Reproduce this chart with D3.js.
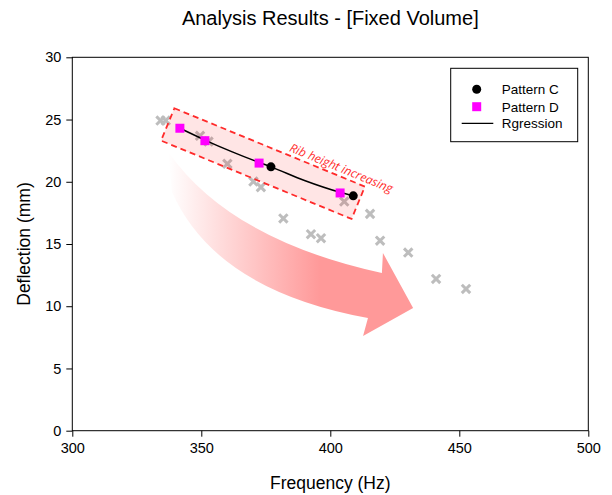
<!DOCTYPE html>
<html>
<head>
<meta charset="utf-8">
<script src="https://cdn.jsdelivr.net/npm/d3@7"></script>
<style>
  body { margin: 0; background: #fff; }
  svg { display: block; }
</style>
</head>
<body>
<div id="chart"></div>
<script>
// DATA
var patternCFreq = [377.0, 408.9];
var patternCDefl = [21.2, 18.87];
var patternDFreq = [341.7, 351.4, 372.4, 403.8];
var patternDDefl = [24.3, 23.3, 21.5, 19.1];
var otherFreq = [334.2, 336.2, 349.5, 352.8, 360.1, 370.2, 373.1, 381.8, 392.5, 396.4, 405.4, 415.4, 419.3, 430.2, 441.0, 452.6];
var otherDefl = [24.92, 24.92, 23.69, 23.23, 21.44, 20.02, 19.57, 17.05, 15.79, 15.47, 18.41, 17.42, 15.27, 14.31, 12.19, 11.39];
var regFreq = [341.7, 351.4, 362.0, 372.4, 377.0, 390.0, 403.8, 408.9];
var regDefl = [24.3, 23.35, 22.4, 21.55, 21.2, 20.1, 19.15, 18.87];
var xTicks = [300, 350, 400, 450, 500];
var yTicks = [0, 5, 10, 15, 20, 25, 30];
var legendLabels = ['Pattern C', 'Pattern D', 'Rgression'];

// SETTINGS
var settings = {
   width: 612,
   height: 495,
   left: 72.3,
   right: 588.3,
   top: 57.3,
   bottom: 430.7,
   font: '"Liberation Sans", Arial, sans-serif'
};

// SCALES
var xScale = d3.scaleLinear().domain([300, 500]).range([settings.left, settings.right]);
var yScale = d3.scaleLinear().domain([0, 30]).range([settings.bottom, settings.top]);

var svg = d3.select('#chart').append('svg')
   .attr('width', settings.width)
   .attr('height', settings.height)
   .style('font-family', settings.font);

// GRADIENT FOR ARROW
var defs = svg.append('defs');
var grad = defs.append('linearGradient')
   .attr('id', 'arrowGrad')
   .attr('gradientUnits', 'userSpaceOnUse')
   .attr('x1', 168).attr('y1', 0).attr('x2', 320).attr('y2', 0);
grad.append('stop').attr('offset', '0%').attr('stop-color', '#ffffff');
grad.append('stop').attr('offset', '100%').attr('stop-color', '#ff9999');

// CURVED ARROW (data space anchors)
var P = function (f, d) { return [xScale(f), yScale(d)]; };
var a0 = P(337.2, 22.4), c1 = P(361.1, 15.33), a1 = P(420.0, 12.67),
    h1 = P(420.4, 14.28), tip = P(432.1, 9.86), h2 = P(412.7, 7.61),
    a2 = P(414.6, 9.06), c2 = P(355.3, 11.31), a3 = P(338.6, 19.19);
var arrowPath = 'M' + a0 + 'Q' + c1 + ' ' + a1 + 'L' + h1 + 'L' + tip + 'L' + h2 +
   'L' + a2 + 'Q' + c2 + ' ' + a3 + 'Z';
svg.append('path')
   .attr('d', arrowPath)
   .attr('fill', 'url(#arrowGrad)');

// GRAY CROSSES
var crosses = svg.append('g');
otherFreq.forEach(function (f, i) {
   var cx = xScale(f), cy = yScale(otherDefl[i]), s = 4.2;
   crosses.append('path')
      .attr('d', 'M' + (cx - s) + ',' + (cy - s) + 'L' + (cx + s) + ',' + (cy + s) +
                 'M' + (cx - s) + ',' + (cy + s) + 'L' + (cx + s) + ',' + (cy - s))
      .attr('stroke', '#bdbdbd')
      .attr('stroke-width', 3)
      .attr('fill', 'none');
});

// DASHED ANNOTATION BOX
var boxCenter = P(373.9, 21.46);
var box = svg.append('g')
   .attr('transform', 'translate(' + boxCenter + ') rotate(22.35)');
box.append('rect')
   .attr('x', -103).attr('y', -17.5)
   .attr('width', 206).attr('height', 35)
   .attr('fill', 'rgba(255,0,0,0.1)')
   .attr('stroke', '#ff2a2a')
   .attr('stroke-width', 1.8)
   .attr('stroke-dasharray', '6,4');
box.append('text')
   .attr('x', 19).attr('y', -21.5)
   .attr('fill', '#ff2a2a')
   .style('font-family', '"Open Sans", sans-serif')
   .style('font-style', 'italic')
   .style('font-size', '12px')
   .text('Rib height increasing');

// REGRESSION LINE
var line = d3.line()
   .x(function (d, i) { return xScale(regFreq[i]); })
   .y(function (d) { return yScale(d); })
   .curve(d3.curveMonotoneX);
svg.append('path')
   .attr('d', line(regDefl))
   .attr('fill', 'none')
   .attr('stroke', '#000')
   .attr('stroke-width', 1.5);

// PATTERN D SQUARES
svg.selectAll('rect.pd')
   .data(patternDDefl)
   .enter().append('rect')
      .attr('class', 'pd')
      .attr('x', function (d, i) { return xScale(patternDFreq[i]) - 4.5; })
      .attr('y', function (d) { return yScale(d) - 4.5; })
      .attr('width', 9).attr('height', 9)
      .attr('fill', '#ff00ff');

// PATTERN C CIRCLES
svg.selectAll('circle.pc')
   .data(patternCDefl)
   .enter().append('circle')
      .attr('class', 'pc')
      .attr('cx', function (d, i) { return xScale(patternCFreq[i]); })
      .attr('cy', function (d) { return yScale(d); })
      .attr('r', 4.5)
      .attr('fill', '#000');

// FRAME
svg.append('rect')
   .attr('x', settings.left).attr('y', settings.top)
   .attr('width', settings.right - settings.left)
   .attr('height', settings.bottom - settings.top)
   .attr('fill', 'none')
   .attr('stroke', '#000')
   .attr('stroke-width', 1);

// AXES
var xAxis = svg.append('g')
   .attr('transform', 'translate(0,' + settings.bottom + ')')
   .call(d3.axisBottom(xScale).tickValues(xTicks).tickSize(6).tickPadding(6).tickSizeOuter(0));
var yAxis = svg.append('g')
   .attr('transform', 'translate(' + settings.left + ',0)')
   .call(d3.axisLeft(yScale).tickValues(yTicks).tickSize(6).tickPadding(5).tickSizeOuter(0));
[xAxis, yAxis].forEach(function (ax) {
   ax.select('.domain').remove();
   ax.selectAll('text')
      .style('font-family', settings.font)
      .style('font-size', '14.5px')
      .attr('fill', '#000');
});

// TITLES
svg.append('text')
   .attr('x', (settings.left + settings.right) / 2)
   .attr('y', 25)
   .attr('text-anchor', 'middle')
   .style('font-size', '20px')
   .text('Analysis Results - [Fixed Volume]');
svg.append('text')
   .attr('x', (settings.left + settings.right) / 2)
   .attr('y', 489)
   .attr('text-anchor', 'middle')
   .style('font-size', '17.5px')
   .text('Frequency (Hz)');
svg.append('text')
   .attr('transform', 'translate(30,' + ((settings.top + settings.bottom) / 2) + ') rotate(-90)')
   .attr('text-anchor', 'middle')
   .style('font-size', '17.5px')
   .text('Deflection (mm)');

// LEGEND
var legend = svg.append('g');
legend.append('rect')
   .attr('x', 450.7).attr('y', 68.3)
   .attr('width', 127).attr('height', 73.4)
   .attr('fill', '#fff')
   .attr('stroke', '#000')
   .attr('stroke-width', 1);
var ly = [89.3, 106.7, 123.3];
legend.append('circle').attr('cx', 476.7).attr('cy', ly[0]).attr('r', 4.5).attr('fill', '#000');
legend.append('rect').attr('x', 472.2).attr('y', ly[1] - 4.5).attr('width', 9).attr('height', 9).attr('fill', '#ff00ff');
legend.append('line').attr('x1', 461.7).attr('x2', 493.3).attr('y1', ly[2]).attr('y2', ly[2])
   .attr('stroke', '#000').attr('stroke-width', 1.2);
legendLabels.forEach(function (t, i) {
   legend.append('text')
      .attr('x', 501.7).attr('y', ly[i] + 4.8)
      .style('font-size', '13.5px')
      .text(t);
});
</script>
</body>
</html>
